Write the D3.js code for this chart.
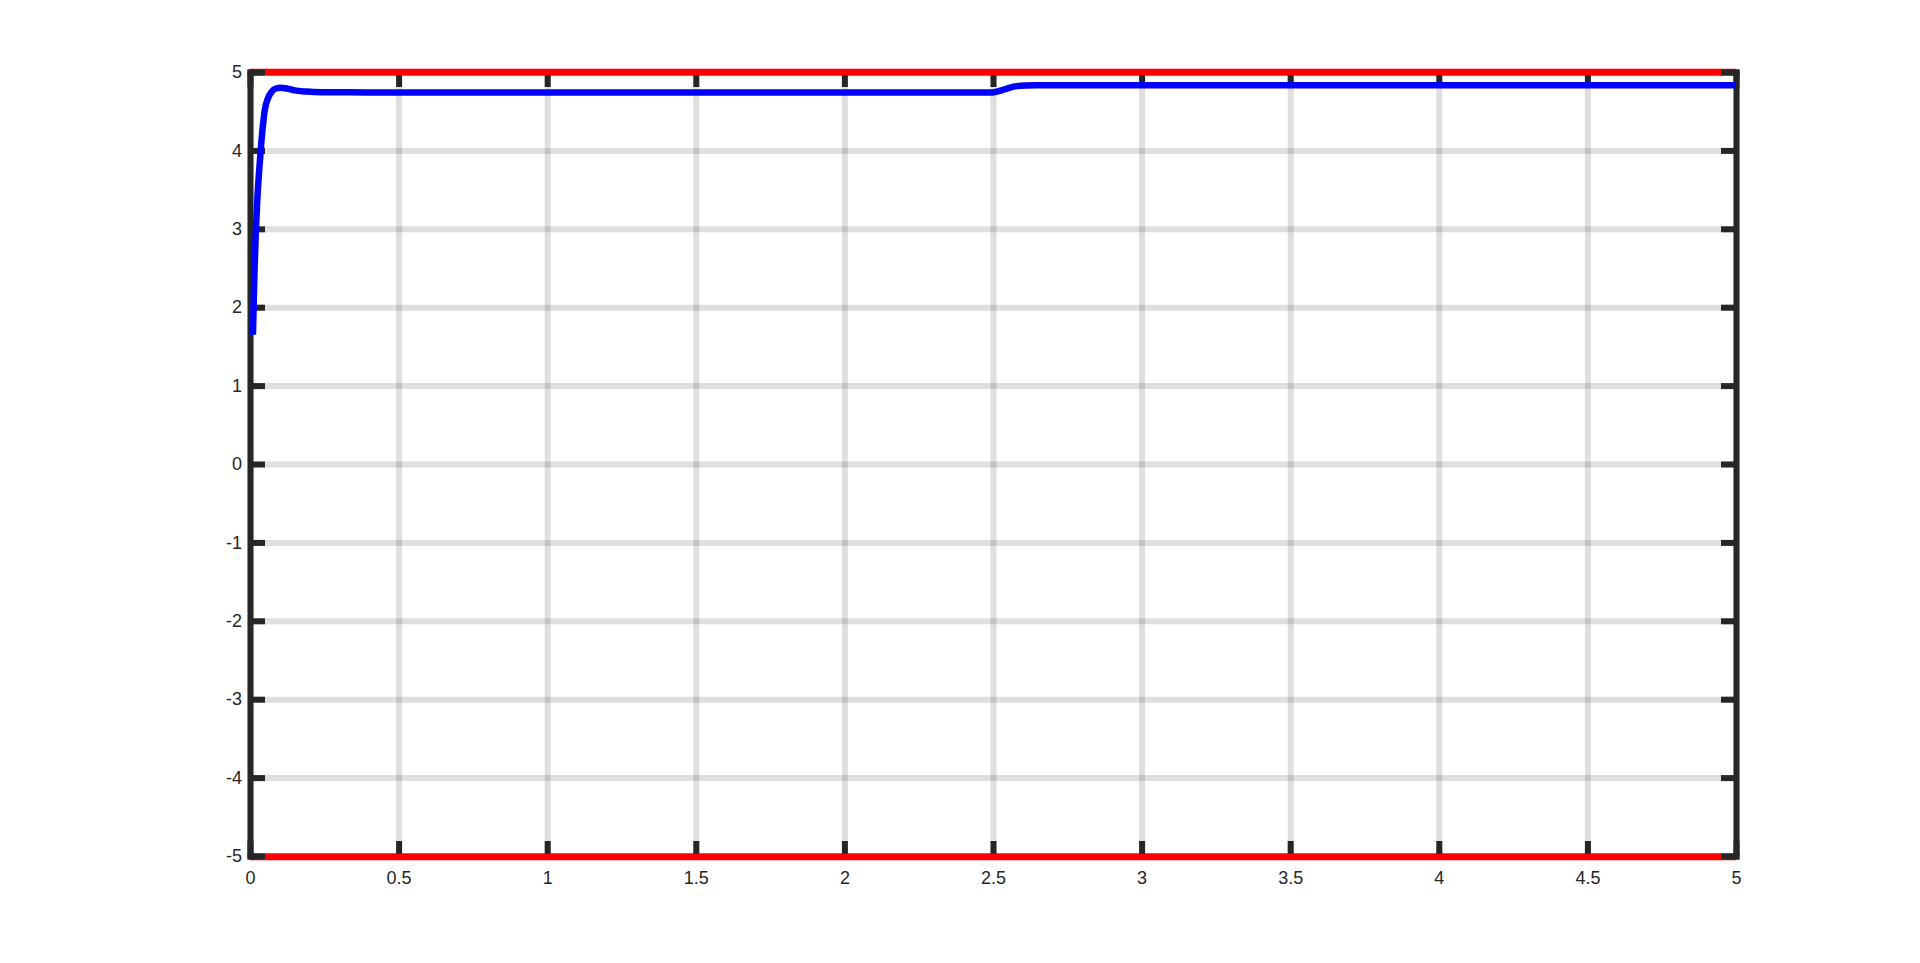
<!DOCTYPE html>
<html>
<head>
<meta charset="utf-8">
<script src="https://cdn.jsdelivr.net/npm/d3@7"></script>
<style>
  html, body { margin: 0; padding: 0; background: #fff; }
  svg { display: block; }
  .tick text { font-family: "Liberation Sans", Arial, sans-serif; font-size: 18px; fill: #262626; }
</style>
</head>
<body>
<script>
// valeurs
const xTicks = [0, 0.5, 1, 1.5, 2, 2.5, 3, 3.5, 4, 4.5, 5]
const yTicks = [-5, -4, -3, -2, -1, 0, 1, 2, 3, 4, 5]

// réponse (bleu)
const time = [0.01, 0.015, 0.02, 0.025, 0.03, 0.036, 0.043, 0.05, 0.06, 0.073, 0.087, 0.103, 0.123, 0.15, 0.19, 0.24, 0.4, 2.5, 2.52, 2.54, 2.56, 2.58, 2.61, 2.65, 2.75, 5]
const response = [1.65, 2.45, 3.0, 3.4, 3.7, 4.0, 4.3, 4.52, 4.66, 4.75, 4.79, 4.8, 4.79, 4.765, 4.75, 4.742, 4.74, 4.74, 4.755, 4.78, 4.805, 4.82, 4.828, 4.83, 4.83, 4.83]

// limites (rouge)
const limTime = [0, 5]
const upper = [5, 5]
const lower = [-5, -5]

const W = 1920, H = 963
const mLeft = 250, mRight = 1736, mTop = 72, mBottom = 856
const axisColor = "#262626"

const svg = d3.select("body").append("svg")
    .attr("width", W)
    .attr("height", H)

const x = d3.scaleLinear().domain([0, 5]).range([mLeft, mRight])
const y = d3.scaleLinear().domain([-5, 5]).range([mBottom, mTop])

// grille
const gridX = svg.append("g")
    .attr("transform", `translate(0,${mBottom})`)
    .call(d3.axisBottom(x).tickValues(xTicks).tickSize(-(mBottom - mTop)).tickFormat(""))
gridX.select(".domain").remove()
gridX.selectAll("line").attr("stroke", axisColor).attr("stroke-opacity", 0.15).attr("stroke-width", 6)

const gridY = svg.append("g")
    .attr("transform", `translate(${mLeft},0)`)
    .call(d3.axisLeft(y).tickValues(yTicks).tickSize(-(mRight - mLeft)).tickFormat(""))
gridY.select(".domain").remove()
gridY.selectAll("line").attr("stroke", axisColor).attr("stroke-opacity", 0.15).attr("stroke-width", 6)

function styleAxis(g) {
    g.select(".domain").attr("stroke", axisColor).attr("stroke-width", 6).attr("stroke-linecap", "square")
    g.selectAll(".tick line").attr("stroke", axisColor).attr("stroke-width", 6)
}

// axes horizontaux
const axBottom = svg.append("g")
    .attr("transform", `translate(0,${mBottom})`)
    .call(d3.axisBottom(x).tickValues(xTicks).tickSize(-15).tickSizeOuter(0).tickPadding(15).tickFormat(d => String(d)))
styleAxis(axBottom)

const axTop = svg.append("g")
    .attr("transform", `translate(0,${mTop})`)
    .call(d3.axisTop(x).tickValues(xTicks).tickSize(-15).tickSizeOuter(0).tickFormat(""))
styleAxis(axTop)

// lignes rouges
const line = d3.line().x((d, i) => x(limTime[i])).y(d => y(d))
svg.append("path").datum(upper)
    .attr("d", line)
    .attr("fill", "none").attr("stroke", "#ff0000").attr("stroke-width", 6.5)
svg.append("path").datum(lower)
    .attr("d", line)
    .attr("transform", "translate(0,1)")
    .attr("fill", "none").attr("stroke", "#ff0000").attr("stroke-width", 6.5)

// axes verticaux
const axLeft = svg.append("g")
    .attr("transform", `translate(${mLeft},0)`)
    .call(d3.axisLeft(y).tickValues(yTicks).tickSize(-15).tickSizeOuter(0).tickPadding(8).tickFormat(d => String(d)))
styleAxis(axLeft)

const axRight = svg.append("g")
    .attr("transform", `translate(${mRight},0)`)
    .call(d3.axisRight(y).tickValues(yTicks).tickSize(-15).tickSizeOuter(0).tickFormat(""))
styleAxis(axRight)

// courbe bleue
const respLine = d3.line()
    .x((d, i) => x(time[i]))
    .y(d => y(d))
    .curve(d3.curveMonotoneX)
svg.append("path").datum(response)
    .attr("d", respLine)
    .attr("fill", "none")
    .attr("stroke", "#0000ff")
    .attr("stroke-width", 6.5)
    .attr("stroke-linejoin", "round")
</script>
</body>
</html>
